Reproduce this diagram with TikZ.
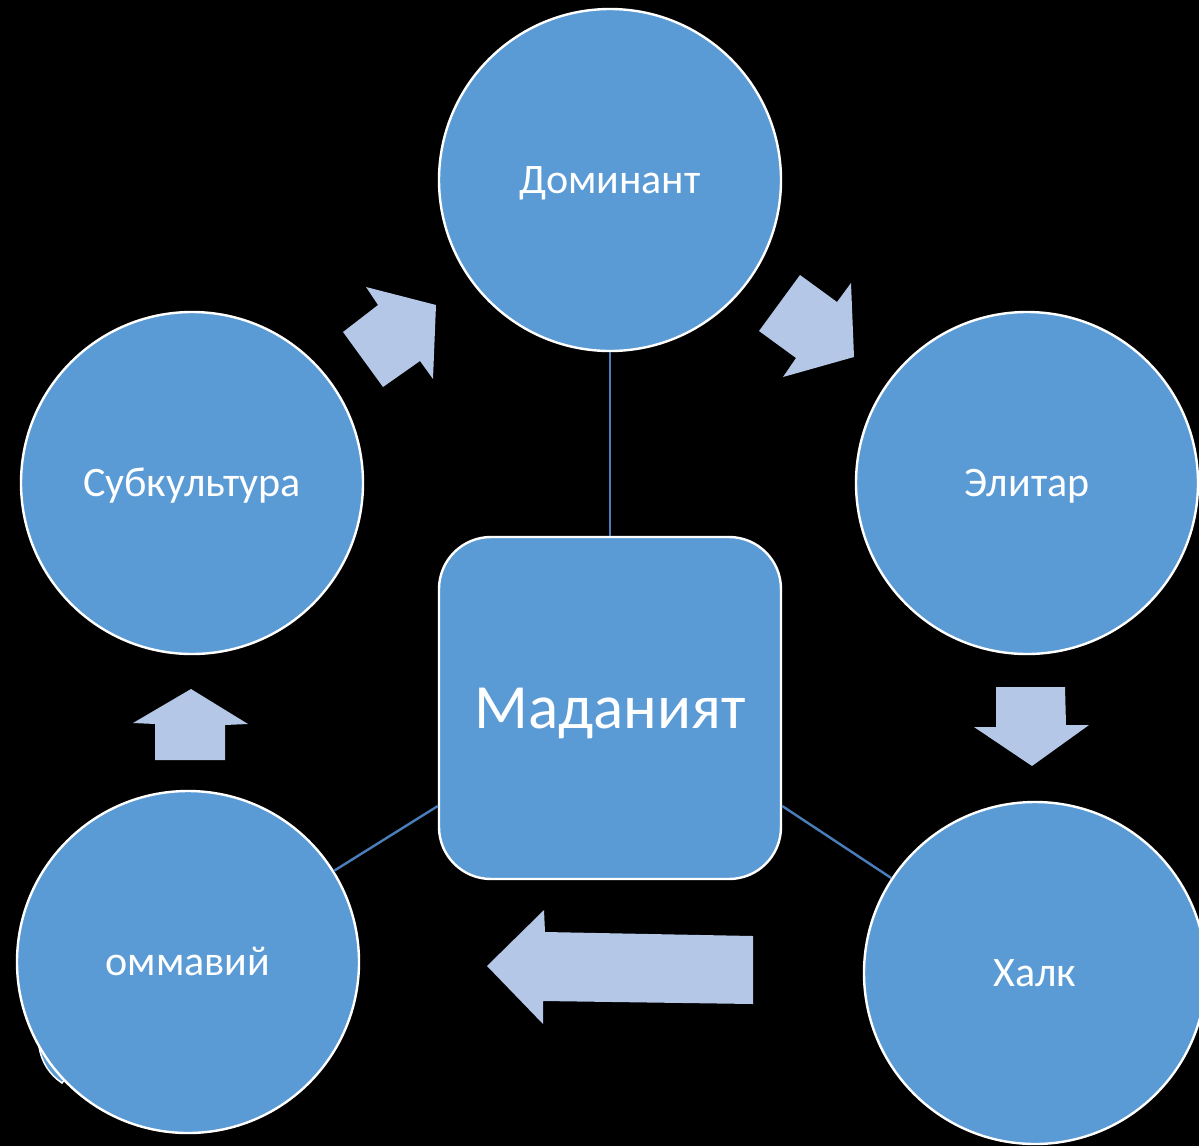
\documentclass[tikz,border=0pt]{standalone}
\usepackage{fontspec}
\setmainfont{Carlito}
\definecolor{cfill}{HTML}{5B9BD5}
\definecolor{afill}{HTML}{B4C7E7}
\definecolor{lcol}{HTML}{4A7EBB}
\begin{document}
\begin{tikzpicture}[x=1pt,y=-1pt,
  circ/.style={circle,draw=white,line width=2.4pt,fill=cfill,minimum size=342pt,inner sep=0pt,
    text=white,font=\fontsize{42}{50}\selectfont,text height=26pt,text depth=0pt},
  centerbox/.style={rectangle,rounded corners=52pt,draw=white,line width=2.4pt,fill=cfill,
    minimum width=342pt,minimum height=342pt,inner sep=0pt,
    text=white,font=\fontsize{63}{75}\selectfont,text height=40pt,text depth=0pt},
  conn/.style={draw=lcol,line width=2.4pt},
  blockarrow/.style={fill=afill}]
\fill[black] (0,0) rectangle (1199,1146);
\useasboundingbox (0,0) rectangle (1199,1146);

% block arrows
\fill[blockarrow] (366,287) -- (378,305) -- (343,332) -- (383,387) -- (420,361) -- (433,379) -- (436,305) -- cycle;
\fill[blockarrow] (800,275) -- (837,302) -- (851,283) -- (854,357) -- (783,377) -- (796,358) -- (759,331) -- cycle;
\fill[blockarrow] (996,687) -- (1065,687) -- (1066,725) -- (1089,725) -- (1032,766) -- (974,727) -- (996,727) -- cycle;
\fill[blockarrow] (487,966) -- (544,910) -- (545,932) -- (753,936) -- (753,1004) -- (543,1001) -- (543,1024) -- cycle;
\fill[blockarrow] (191,689) -- (248,724) -- (225,725) -- (225,760) -- (155,760) -- (155,724) -- (133,723) -- cycle;

% central box
\node[centerbox] (mad) at (610,708) {Маданият};

% small artefact behind the lower-left circle
\filldraw[fill=cfill,draw=white,line width=1.5pt] (39,1046) .. controls (41,1062) and (50,1075) .. (62,1083) -- (80,1060) -- cycle;

% circles
\node[circ] (dom) at (610,180) {Доминант};
\node[circ] (eli) at (1027,483) {Элитар};
\node[circ] (halk) at (1035,973) {Халк};
\node[circ] (omm) at (188,962) {оммавий};
\node[circ] (sub) at (192,483) {Субкультура};

% connectors
\draw[conn] (dom) -- (mad);
\draw[conn] ([yshift=-98pt]mad.west) -- (omm);
\draw[conn] ([yshift=-98pt]mad.east) -- (halk);
\end{tikzpicture}
\end{document}
